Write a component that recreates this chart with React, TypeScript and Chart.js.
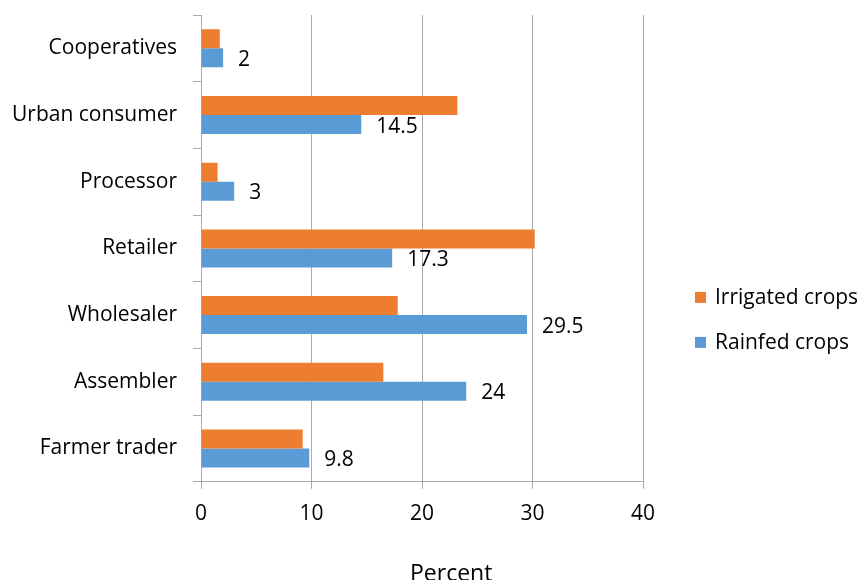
import React, { useEffect, useRef } from "react";
import { Chart, registerables } from "chart.js";

Chart.register(...registerables);

const categories = [
  "Cooperatives",
  "Urban consumer",
  "Processor",
  "Retailer",
  "Wholesaler",
  "Assembler",
  "Farmer trader",
];
const irrigatedValues = [1.7, 23.2, 1.5, 30.2, 17.8, 16.5, 9.2];
const rainfedValues = [2, 14.5, 3, 17.3, 29.5, 24, 9.8];
const seriesNames = ["Irrigated crops", "Rainfed crops"];
const xTicks = [0, 10, 20, 30, 40];
const xTitle = "Percent";

const ORANGE = "#ED7D31";
const BLUE = "#5B9BD5";
const GRID = "#ABABAB";
const FONT = "'Open Sans', sans-serif";
const FONT_SIZE = 21;
const TITLE_SIZE = 23;

// Value labels to the right of the rainfed bars, plus the side legend and axis title.
const decorations = {
  id: "decorations",
  afterDatasetsDraw(chart: any) {
    const ctx = chart.ctx;
    ctx.save();
    ctx.font = `${FONT_SIZE}px ${FONT}`;
    ctx.fillStyle = "#000";
    ctx.textAlign = "left";
    ctx.textBaseline = "middle";
    const meta = chart.getDatasetMeta(1);
    meta.data.forEach((bar: any, i: number) => {
      ctx.fillText(String(rainfedValues[i]), bar.x + 15, bar.y + 2);
    });
    ctx.restore();
  },
  afterDraw(chart: any) {
    const ctx = chart.ctx;
    const area = chart.chartArea;
    ctx.save();
    ctx.font = `${FONT_SIZE}px ${FONT}`;
    ctx.fillStyle = "#000";
    ctx.textBaseline = "middle";
    // legend
    const colors = [ORANGE, BLUE];
    const lx = area.right + 52;
    const ly = (area.top + area.bottom) / 2 + 49;
    seriesNames.forEach((name, i) => {
      const y = ly + i * 45;
      ctx.fillStyle = colors[i];
      ctx.fillRect(lx, y - 5.5, 11, 11);
      ctx.fillStyle = "#000";
      ctx.textAlign = "left";
      ctx.fillText(name, lx + 20, y + 1);
    });
    // axis title
    ctx.font = `${TITLE_SIZE}px ${FONT}`;
    ctx.textAlign = "center";
    const cx = area.left + (area.right - area.left) * 0.566;
    ctx.fillText(xTitle, cx, chart.height - 6);
    ctx.restore();
  },
};

export default function App() {
  const canvasRef = useRef<HTMLCanvasElement | null>(null);

  useEffect(() => {
    const canvas = canvasRef.current;
    if (!canvas) return;
    const chart = new Chart(canvas, {
      type: "bar",
      data: {
        labels: categories,
        datasets: [
          {
            label: seriesNames[0],
            data: irrigatedValues,
            backgroundColor: ORANGE,
            categoryPercentage: 0.57,
            barPercentage: 1,
          },
          {
            label: seriesNames[1],
            data: rainfedValues,
            backgroundColor: BLUE,
            categoryPercentage: 0.57,
            barPercentage: 1,
          },
        ],
      },
      options: {
        indexAxis: "y",
        responsive: false,
        animation: false,
        layout: { padding: { top: 15, right: 218, bottom: 40, left: 0 } },
        plugins: {
          legend: { display: false },
          tooltip: { enabled: false },
        },
        scales: {
          x: {
            min: 0,
            max: 40,
            afterBuildTicks: (scale: any) => {
              scale.ticks = xTicks.map((v) => ({ value: v }));
            },
            grid: {
              color: GRID,
              lineWidth: 1,
              drawTicks: true,
              tickLength: 7,
              tickColor: GRID,
            },
            border: { color: GRID, width: 1 },
            ticks: {
              color: "#000",
              padding: 13,
              font: { family: FONT, size: FONT_SIZE },
              maxRotation: 0,
            },
          },
          y: {
            afterFit: (scale: any) => {
              scale.paddingTop = 0;
              scale.paddingBottom = 0;
              scale.width -= 4;
            },
            grid: {
              drawOnChartArea: false,
              drawTicks: true,
              tickLength: 8,
              tickColor: GRID,
              offset: true,
            },
            border: { color: GRID, width: 1 },
            ticks: {
              color: "#000",
              padding: 16,
              font: { family: FONT, size: FONT_SIZE },
            },
          },
        },
      },
      plugins: [decorations],
    });
    return () => chart.destroy();
  }, []);

  return (
    <div style={{ position: "fixed", left: 0, top: 0, width: 861, height: 580, background: "#fff" }}>
      <canvas ref={canvasRef} width={861} height={580} />
    </div>
  );
}
